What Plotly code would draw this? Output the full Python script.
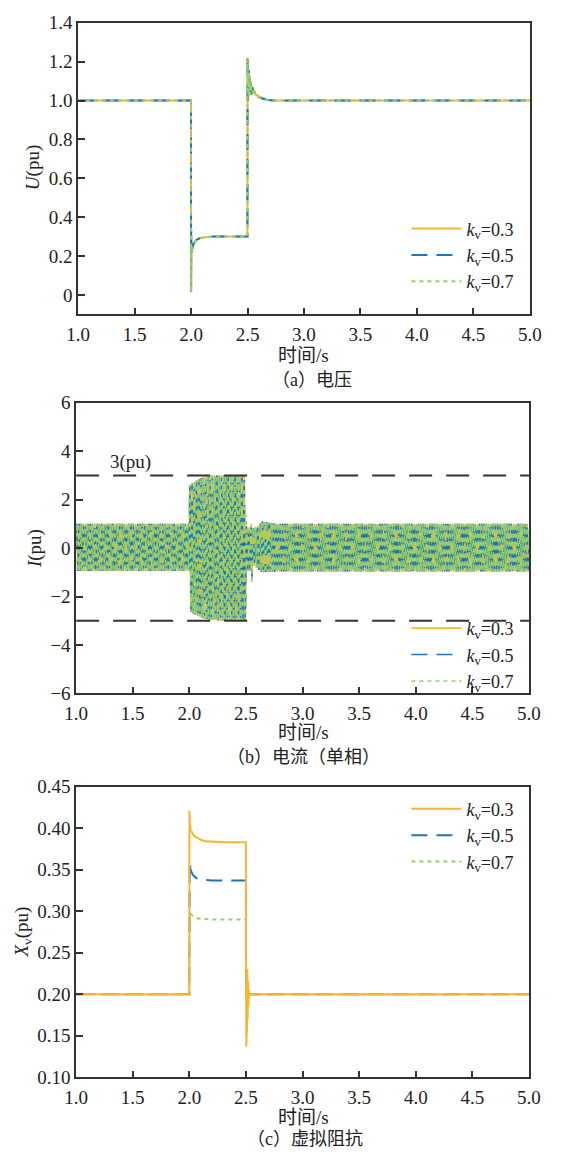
import numpy as np
import plotly.graph_objects as go

# ---------------- data ----------------
SERIES_NAMES = ["<i>k</i><sub>v</sub>=0.3", "<i>k</i><sub>v</sub>=0.5", "<i>k</i><sub>v</sub>=0.7"]

# (a) voltage U(pu)
U_T = [1.0, 1.9995, 2.0005, 2.0015, 2.003, 2.0045, 2.006, 2.008, 2.012, 2.02, 2.035, 2.05, 2.08, 2.12,
       2.2, 2.3, 2.4995, 2.5005, 2.503, 2.506, 2.509, 2.512, 2.515, 2.519, 2.523, 2.528, 2.534, 2.541,
       2.55, 2.56, 2.575, 2.6, 2.63, 2.67, 2.72, 3.0, 5.0]
U_03 = [1.0, 1.0, 0.02, 0.22, 0.17, 0.24, 0.21, 0.23, 0.245, 0.26, 0.275, 0.285, 0.293, 0.297,
        0.30, 0.30, 0.30, 1.22, 1.01, 1.19, 1.03, 1.16, 1.04, 1.13, 1.04, 1.10, 1.04, 1.07,
        1.04, 1.05, 1.03, 1.02, 1.012, 1.005, 1.0, 1.0, 1.0]
U_05 = [1.0, 1.0, 0.016, 0.34, 0.18, 0.25, 0.20, 0.23, 0.24, 0.26, 0.273, 0.284, 0.292, 0.297,
        0.30, 0.30, 0.30, 1.23, 1.00, 1.20, 1.02, 1.17, 1.03, 1.13, 1.05, 1.09, 1.03, 1.07,
        1.05, 1.04, 1.03, 1.02, 1.01, 1.004, 1.0, 1.0, 1.0]
U_07 = [1.0, 1.0, 0.018, 0.26, 0.16, 0.23, 0.21, 0.22, 0.24, 0.255, 0.272, 0.283, 0.292, 0.296,
        0.30, 0.30, 0.30, 1.21, 1.02, 1.18, 1.02, 1.15, 1.05, 1.12, 1.03, 1.09, 1.05, 1.06,
        1.03, 1.05, 1.02, 1.015, 1.01, 1.004, 1.0, 1.0, 1.0]

# (b) current I(pu): envelope of the 50 Hz phase current
I_FREQ_HZ = 50.0
I_CYCLE = [0.0, 0.38, 0.71, 0.92, 1.0, 0.92, 0.71, 0.38, 0.0, -0.38, -0.71, -0.92, -1.0, -0.92, -0.71, -0.38]
I_ENV_T = [1.0, 1.999, 2.001, 2.05, 2.1, 2.15, 2.2, 2.3, 2.45, 2.499, 2.501, 2.53, 2.545, 2.55, 2.555,
           2.57, 2.6, 2.64, 2.7, 2.8, 5.0]
I_ENV_UP = [1.0, 1.0, 2.6, 2.75, 2.88, 2.95, 3.0, 3.0, 3.0, 2.95, 0.9, 0.85, 0.85, 1.8, 0.85,
            0.8, 0.9, 1.1, 1.05, 1.0, 1.0]
I_ENV_LO = [-0.95, -0.95, -2.6, -2.75, -2.85, -2.93, -2.97, -3.0, -3.0, -2.95, -0.95, -0.95, -0.9, -1.8, -0.9,
            -0.72, -0.85, -1.0, -0.98, -0.97, -0.97]
I_PHASE = [0.0, 0.35, 0.7]
I_LIMIT = 3.0

# (c) virtual reactance Xv(pu)
X_T_03 = [1.0, 1.9995, 2.0005, 2.002, 2.004, 2.006, 2.008, 2.011, 2.02, 2.04, 2.07, 2.1, 2.15, 2.2, 2.3,
          2.4995, 2.5005, 2.503, 2.506, 2.509, 2.512, 2.515, 2.518, 2.522, 2.526, 2.53, 5.0]
X_03 = [0.2, 0.2, 0.421, 0.398, 0.414, 0.397, 0.404, 0.396, 0.396, 0.391, 0.388, 0.386, 0.384, 0.384, 0.383,
        0.383, 0.27, 0.137, 0.25, 0.16, 0.23, 0.17, 0.215, 0.185, 0.205, 0.2, 0.2]
X_T_05 = [1.0, 1.9995, 2.003, 2.01, 2.03, 2.06, 2.1, 2.2, 2.4995, 2.5005, 5.0]
X_05 = [0.2, 0.2, 0.36, 0.35, 0.344, 0.34, 0.338, 0.337, 0.337, 0.2, 0.2]
X_T_07 = [1.0, 1.9995, 2.003, 2.01, 2.03, 2.06, 2.1, 2.2, 2.4995, 2.5005, 5.0]
X_07 = [0.2, 0.2, 0.301, 0.297, 0.294, 0.292, 0.291, 0.29, 0.29, 0.2, 0.2]

# ---------------- styling ----------------
COLORS = ["#F7B531", "#1F74BA", "#93D36B"]
DASHES = ["solid", "16px,9px", "4px,4px"]
FONT = "Liberation Serif, Noto Sans CJK SC, serif"
AX = "#333333"
W, H = 563, 1160

def px_x(v):
    return v / W

def px_y(v):
    return 1 - v / H

fig = go.Figure()

# (a)
for name, y, c, d in zip(SERIES_NAMES, [U_03, U_05, U_07], COLORS, DASHES):
    fig.add_trace(go.Scatter(x=U_T, y=y, mode="lines", name=name, legend="legend",
                             line=dict(color=c, width=2, dash=d), xaxis="x", yaxis="y"))

# (b)
n = len(I_CYCLE)
n_cycles = int(round((I_ENV_T[-1] - I_ENV_T[0]) * I_FREQ_HZ))
t_cur = np.array([I_ENV_T[0] + k / (I_FREQ_HZ * n) for k in range(n_cycles * n + 1)])
up = np.interp(t_cur, I_ENV_T, I_ENV_UP)
lo = np.interp(t_cur, I_ENV_T, I_ENV_LO)
for name, ph, c, d in zip(SERIES_NAMES, I_PHASE, COLORS, DASHES):
    shift = int(round(ph / (2 * np.pi) * n))
    carrier = np.array([I_CYCLE[(k + shift) % n] for k in range(len(t_cur))])
    y = np.where(carrier >= 0, carrier * up, -carrier * lo)
    fig.add_trace(go.Scatter(x=t_cur, y=y, mode="lines", name=name, legend="legend2",
                             line=dict(color=c, width=1.6, dash=d), xaxis="x2", yaxis="y2"))
for lim in [I_LIMIT, -I_LIMIT]:
    fig.add_trace(go.Scatter(x=[1.0, 5.0], y=[lim, lim], mode="lines", showlegend=False,
                             line=dict(color="#333333", width=2, dash="23px,14px"),
                             xaxis="x2", yaxis="y2", hoverinfo="skip"))

# (c)
xv = [(X_T_05, X_05, 1), (X_T_07, X_07, 2), (X_T_03, X_03, 0)]
for tt, yy, i in xv:
    fig.add_trace(go.Scatter(x=tt, y=yy, mode="lines", name=SERIES_NAMES[i], legend="legend3",
                             legendrank=i + 1,
                             line=dict(color=COLORS[i], width=2, dash=DASHES[i]), xaxis="x3", yaxis="y3"))

tickfont = dict(family=FONT, size=19, color="#222222")

def xaxis(dom, anchor):
    return dict(domain=dom, anchor=anchor, range=[1.0, 5.0], tickvals=[1, 1.5, 2, 2.5, 3, 3.5, 4, 4.5, 5],
                ticktext=["1.0", "1.5", "2.0", "2.5", "3.0", "3.5", "4.0", "4.5", "5.0"],
                ticks="inside", ticklen=7, tickwidth=1.5, tickcolor=AX, showline=True, linecolor=AX,
                linewidth=1.5, mirror=True, showgrid=False, zeroline=False, tickfont=tickfont,
                ticklabelstandoff=2)

def yaxis(dom, anchor, rng, vals, text):
    return dict(domain=dom, anchor=anchor, range=rng, tickvals=vals, ticktext=text,
                ticks="inside", ticklen=7, tickwidth=1.5, tickcolor=AX, showline=True, linecolor=AX,
                linewidth=1.5, mirror=True, showgrid=False, zeroline=False, tickfont=tickfont,
                ticklabelstandoff=0)

LEG_FONT = dict(family=FONT, size=18, color="#222222")

def legend(top):
    return dict(x=px_x(412), y=px_y(top), xanchor="left", yanchor="top", bgcolor="rgba(0,0,0,0)",
                font=LEG_FONT, tracegroupgap=0, itemwidth=50, traceorder="normal")

xa = [px_x(69), px_x(541)]
xb = [px_x(67), px_x(540)]
fig.update_layout(
    width=W, height=H, margin=dict(l=0, r=0, t=0, b=0),
    paper_bgcolor="white", plot_bgcolor="white", showlegend=True,
    xaxis=xaxis(xa, "y"),
    yaxis=yaxis([px_y(310), px_y(13)], "x", [-0.1, 1.4], [0, 0.2, 0.4, 0.6, 0.8, 1.0, 1.2, 1.4],
                ["0", "0.2", "0.4", "0.6", "0.8", "1.0", "1.2", "1.4"]),
    xaxis2=xaxis(xb, "y2"),
    yaxis2=yaxis([px_y(696), px_y(400)], "x2", [-6, 6], [-6, -4, -2, 0, 2, 4, 6],
                 ["\u22126", "\u22124", "\u22122", "0", "2", "4", "6"]),
    xaxis3=xaxis(xb, "y3"),
    yaxis3=yaxis([px_y(1087), px_y(791)], "x3", [0.1, 0.45], [0.1, 0.15, 0.2, 0.25, 0.3, 0.35, 0.4, 0.45],
                 ["0.10", "0.15", "0.20", "0.25", "0.30", "0.35", "0.40", "0.45"]),
    legend=legend(204),
    legend2=legend(611),
    legend3=legend(795),
)

ann_font = dict(family=FONT, size=19, color="#222222")
anns = [
    dict(text="<i>U</i>(pu)", x=px_x(22), y=px_y(161), textangle=-90),
    dict(text="<i>I</i>(pu)", x=px_x(24), y=px_y(548), textangle=-90),
    dict(text="<i>X</i><sub>v</sub>(pu)", x=px_x(12), y=px_y(939), textangle=-90),
    dict(text="时间/s", x=px_x(305), y=px_y(352)),
    dict(text="时间/s", x=px_x(304), y=px_y(736)),
    dict(text="时间/s", x=px_x(304), y=px_y(1128)),
    dict(text="（a）电压", x=px_x(313), y=px_y(377), size=18),
    dict(text="（b）电流（单相）", x=px_x(304), y=px_y(761), size=18),
    dict(text="（c）虚拟阻抗", x=px_x(306), y=px_y(1150), size=18),
]
for a in anns:
    size = a.pop("size", 19)
    fig.add_annotation(xref="paper", yref="paper", showarrow=False, xanchor="center", yanchor="middle",
                       font=dict(family=FONT, size=size, color="#222222"), **a)
fig.add_annotation(xref="x2", yref="y2", x=1.48, y=3.57, text="3(pu)", showarrow=False,
                   font=ann_font, xanchor="center", yanchor="middle")

fig.write_html("out.html")
